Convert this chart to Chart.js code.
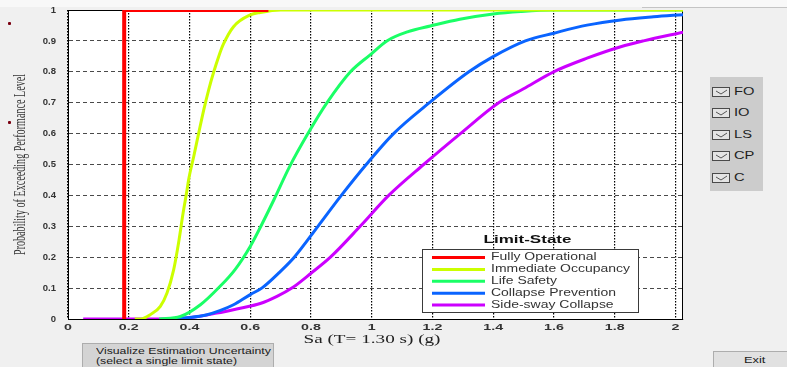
<!DOCTYPE html>
<html>
<head>
<meta charset="utf-8">
<script src="https://cdn.jsdelivr.net/npm/chart.js@4.4.1/dist/chart.umd.min.js"></script>
<style>
body { margin: 0; background: #f0f0f0; width: 787px; height: 367px; overflow: hidden; position: relative; font-family: "Liberation Sans", Arial, sans-serif; }
#chart { position: absolute; left: 0; top: 0; }
.topstrip { position: absolute; left: 0; top: 0; width: 787px; height: 7px; background: #f8f8f8; }
.topline { position: absolute; left: 642px; top: 7px; width: 145px; height: 1px; background: #c4c4c4; }
.mark { position: absolute; left: 8px; width: 3px; height: 3px; background: #7a0010; border-radius: 1px; }
#panel { position: absolute; left: 710px; top: 77px; width: 53px; height: 114px; background: #cccccc; }
.row { position: absolute; left: 0; height: 12px; width: 53px; }
.box { position: absolute; left: 2px; top: 1px; width: 16px; height: 8px; border: 1px solid #4a4a4a; background: #e4e4e4; }
.lbl { position: absolute; left: 24px; top: -1px; font-size: 10.5px; color: #1e1e1e; transform: scaleX(1.4); transform-origin: left center; white-space: nowrap; }
.btn { position: absolute; background: #d4d4d4; border: 1px solid #adadad; box-sizing: border-box; font-size: 9.5px; color: #1a1a1a; }
.btn span { position: absolute; white-space: nowrap; transform-origin: left top; }
</style>
</head>
<body>
<canvas id="chart" width="787" height="367"></canvas>
<div class="topstrip"></div>
<div class="topline"></div>
<div class="mark" style="top:22px"></div>
<div class="mark" style="top:121px"></div>
<div id="panel"></div>
<div class="btn" style="left:82px; top:343px; width:192px; height:30px;">
  <span style="left:13px; top:2px; line-height:9.8px; transform: scaleX(1.29);">Visualize Estimation Uncertainty<br>(select a single limit state)</span>
</div>
<div class="btn" style="left:713px; top:351px; width:80px; height:20px; background:#e1e1e1;">
  <span style="left:30px; top:2px; transform: scaleX(1.35);">Exit</span>
</div>
<script>
// axis setup
const xTicks = [0, 0.2, 0.4, 0.6, 0.8, 1, 1.2, 1.4, 1.6, 1.8, 2]
const yTicks = [0, 0.1, 0.2, 0.3, 0.4, 0.5, 0.6, 0.7, 0.8, 0.9, 1]
const xMax = 2.025

const seriesNames = ['Fully Operational', 'Immediate Occupancy', 'Life Safety', 'Collapse Prevention', 'Side-sway Collapse']
const stateCodes = ['FO', 'IO', 'LS', 'CP', 'C']
const seriesColors = ['#ff0000', '#ccff00', '#1aff66', '#0a64ff', '#cc00ff']

// fragility curves
const foX = [0.185, 0.185, 0.66]
const foY = [0, 1, 1]

const ioX = [0.22, 0.24, 0.271, 0.304, 0.326, 0.348, 0.364, 0.379, 0.392, 0.397, 0.414, 0.43, 0.447, 0.463, 0.48, 0.496, 0.512, 0.545, 0.6, 0.633, 0.7, 2.025]
const ioY = [0, 0, 0.014, 0.041, 0.084, 0.16, 0.246, 0.343, 0.418, 0.45, 0.526, 0.6, 0.677, 0.741, 0.8, 0.849, 0.89, 0.946, 0.984, 0.992, 1, 1]

const lsX = [0.3, 0.37, 0.436, 0.5, 0.55, 0.6, 0.64, 0.68, 0.728, 0.79, 0.853, 0.93, 0.995, 1.05, 1.12, 1.193, 1.29, 1.4, 1.49, 1.6, 2.025]
const lsY = [0, 0.008, 0.046, 0.105, 0.16, 0.235, 0.31, 0.39, 0.49, 0.6, 0.7, 0.8, 0.855, 0.9, 0.93, 0.948, 0.97, 0.987, 0.995, 1, 1]

const cpX = [0.33, 0.4, 0.458, 0.5, 0.545, 0.6, 0.638, 0.695, 0.745, 0.823, 0.9, 0.982, 1.072, 1.19, 1.32, 1.4, 1.506, 1.6, 1.709, 1.82, 1.928, 2.025]
const cpY = [0, 0.005, 0.014, 0.027, 0.046, 0.079, 0.1, 0.15, 0.2, 0.3, 0.4, 0.5, 0.6, 0.7, 0.8, 0.849, 0.9, 0.925, 0.951, 0.968, 0.978, 0.985]

const cX = [0.05, 0.3, 0.39, 0.49, 0.567, 0.633, 0.688, 0.737, 0.8, 0.864, 0.962, 1.056, 1.171, 1.292, 1.418, 1.5, 1.599, 1.709, 1.82, 1.895, 2.025]
const cY = [0, 0, 0.003, 0.019, 0.035, 0.05, 0.073, 0.1, 0.148, 0.2, 0.3, 0.4, 0.5, 0.6, 0.7, 0.745, 0.8, 0.844, 0.881, 0.9, 0.928]

const curvesX = [foX, ioX, lsX, cpX, cX]
const curvesY = [foY, ioY, lsY, cpY, cY]

function toPoints(xs, ys) {
    return xs.map((x, i) => ({x: x, y: ys[i]}))
}

// check boxes on the right
const panel = document.getElementById('panel')
stateCodes.forEach((code, i) => {
    let row = document.createElement('div')
    row.className = 'row'
    row.style.top = (9 + i * 21.4) + 'px'
    row.innerHTML = '<div class="box"><svg width="16" height="8" style="position:absolute;left:0;top:0">' +
        '<polyline points="3,3 8,6 14,2" fill="none" stroke="#555" stroke-width="1"/></svg></div>' +
        '<div class="lbl">' + code + '</div>'
    panel.appendChild(row)
})

function stretchText(ctx, text, x, y, sx, align) {
    ctx.save()
    ctx.translate(x, y)
    ctx.scale(sx, 1)
    ctx.textAlign = align
    ctx.fillText(text, 0, 0)
    ctx.restore()
}

function fitText(ctx, text, x, y, width, align) {
    let sx = width / ctx.measureText(text).width
    stretchText(ctx, text, x, y, sx, align)
}

const frame = {
    id: 'frame',
    beforeDraw(chart) {
        const {ctx, chartArea: a} = chart
        ctx.save()
        ctx.fillStyle = '#ffffff'
        ctx.fillRect(a.left, a.top, a.right - a.left, a.bottom - a.top)
        ctx.restore()
    },
    beforeDatasetsDraw(chart) {
        const {ctx, chartArea: a} = chart
        ctx.save()
        ctx.strokeStyle = '#000000'
        ctx.lineWidth = 1
        ctx.strokeRect(a.left + 0.5, a.top + 0.5, a.right - a.left - 1, a.bottom - a.top)
        ctx.restore()
    },
    afterDatasetsDraw(chart) {
        const ctx = chart.ctx
        const xs = chart.scales.x
        const ys = chart.scales.y
        ctx.save()
        ctx.textBaseline = 'middle'

        // tick labels
        ctx.fillStyle = '#333333'
        ctx.font = 'bold 9.5px "Liberation Sans"'
        xs.ticks.forEach(t => {
            stretchText(ctx, String(t.value), xs.getPixelForValue(t.value), 327, 1.5, 'center')
        })
        ctx.font = 'bold 9.5px "Liberation Sans"'
        ys.ticks.forEach(t => {
            stretchText(ctx, String(t.value), 56, ys.getPixelForValue(t.value), 1.0, 'right')
        })

        // axis titles
        ctx.fillStyle = '#222222'
        ctx.font = '13.5px "Liberation Serif"'
        fitText(ctx, 'Sa (T= 1.30 s) (g)', 372, 339.5, 137, 'center')
        ctx.fillStyle = '#333333'
        ctx.font = '17px "Liberation Serif"'
        ctx.save()
        ctx.translate(21, (ys.top + ys.bottom) / 2)
        ctx.rotate(-Math.PI / 2)
        fitText(ctx, 'Probability of Exceeding Performance Level', 0, 0, 181, 'center')
        ctx.restore()

        // legend
        const lx = 422, ly = 249, lw = 216, lh = 63
        ctx.fillStyle = '#ffffff'
        ctx.fillRect(lx, ly, lw, lh)
        ctx.strokeStyle = '#3a3a3a'
        ctx.lineWidth = 1
        ctx.strokeRect(lx + 0.5, ly + 0.5, lw, lh)
        ctx.fillStyle = '#111111'
        ctx.font = 'bold 11px "Liberation Sans"'
        fitText(ctx, 'Limit-State', 527.5, 240, 88, 'center')
        ctx.font = '10.5px "Liberation Sans"'
        chart.data.datasets.forEach((ds, i) => {
            let y = 257.5 + i * 11.9
            ctx.strokeStyle = ds.borderColor
            ctx.lineWidth = 3
            ctx.beginPath()
            ctx.moveTo(432, y)
            ctx.lineTo(485, y)
            ctx.stroke()
            ctx.fillStyle = '#333333'
            stretchText(ctx, ds.label, 491, y, 1.33, 'left')
        })
        ctx.restore()
    }
}

let datasets = []
for (let i = 0; i < seriesNames.length; i++) {
    datasets.push({
        label: seriesNames[i],
        data: toPoints(curvesX[i], curvesY[i]),
        borderColor: seriesColors[i],
        backgroundColor: seriesColors[i],
        borderWidth: i == 0 ? 4 : 3,
        pointRadius: 0,
        tension: i == 0 ? 0 : 0.4,
        cubicInterpolationMode: i == 0 ? 'default' : 'monotone',
        clip: 0
    })
}

new Chart(document.getElementById('chart'), {
    type: 'line',
    data: { datasets: datasets },
    options: {
        responsive: false,
        animation: false,
        layout: { padding: { left: 68, top: 10, right: 104, bottom: 48 } },
        plugins: {
            legend: { display: false },
            tooltip: { enabled: false }
        },
        scales: {
            x: {
                type: 'linear',
                min: 0,
                max: xMax,
                afterBuildTicks: s => { s.ticks = xTicks.map(v => ({value: v})) },
                ticks: { display: false },
                grid: { color: '#000000', lineWidth: 1.2, drawTicks: false },
                border: { color: '#000000', dash: [1.5, 1.5] }
            },
            y: {
                type: 'linear',
                min: 0,
                max: 1,
                afterBuildTicks: s => { s.ticks = yTicks.map(v => ({value: v})) },
                ticks: { display: false },
                grid: { color: '#4a4a4a', lineWidth: 1, drawTicks: false },
                border: { color: '#000000', dash: [4, 3] }
            }
        }
    },
    plugins: [frame]
})
</script>
</body>
</html>
